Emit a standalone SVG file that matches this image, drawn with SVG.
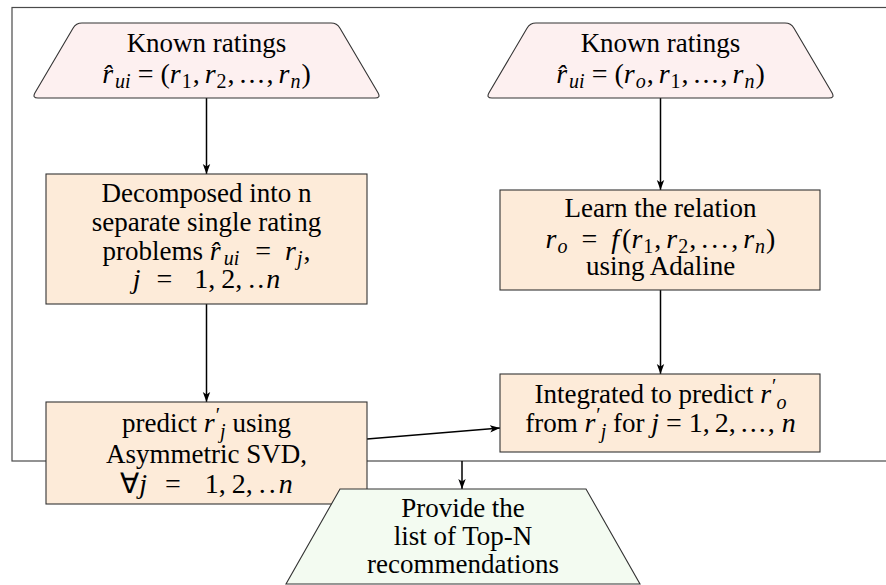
<svg xmlns="http://www.w3.org/2000/svg" width="886" height="585" viewBox="0 0 886 585">
<style>
.t{font-family:'Liberation Serif','Times New Roman',serif;font-size:27px;fill:#000;text-anchor:middle}
.m{font-size:28px}
.i{font-style:italic}
.s{font-size:20px}
.box{stroke:#333;stroke-width:1.1}
.pink{fill:#fdf0f0}
.orange{fill:#fdebd9}
.green{fill:#f3fbf1}
.frame{fill:none;stroke:#4a4a4a;stroke-width:1.2}
.conn{stroke:#000;stroke-width:1.5;fill:none;marker-end:url(#arr)}
</style>
<defs>
<marker id="arr" markerUnits="userSpaceOnUse" markerWidth="11" markerHeight="9" refX="10" refY="4.5" orient="auto">
<path d="M0,0.8 L10,4.5 L0,8.2 L2.4,4.5 Z" fill="#000"/>
</marker>
</defs>
<rect id="frame" class="frame" x="12" y="7.5" width="900" height="453.5"/>
<g id="connectors">
<line class="conn" x1="206.5" y1="98" x2="206.5" y2="174"/>
<line class="conn" x1="206.5" y1="304" x2="206.5" y2="402"/>
<line class="conn" x1="660.5" y1="98" x2="660.5" y2="190"/>
<line class="conn" x1="660.5" y1="290" x2="660.5" y2="374"/>
<line class="conn" x1="367" y1="439" x2="500" y2="428"/>
<line class="conn" x1="462" y1="461" x2="462" y2="489"/>
</g>
<g id="known1">
<path class="box pink" d="M82,23 H331 Q337,23 340,28.2 L378,92.8 Q381,98 375,98 H38 Q32,98 35,92.8 L73,28.2 Q76,23 82,23 Z"/>
<text class="t" x="206.5" y="52">Known ratings</text>
<text class="t" x="206.5" y="83"><tspan class="m i">r̂</tspan><tspan class="s i" dx="2" dy="5">ui</tspan><tspan class="m" dx="7" dy="-5">=</tspan><tspan class="m" dx="7">(</tspan><tspan class="m i">r</tspan><tspan class="s" dx="1" dy="5">1</tspan><tspan class="m" dx="1" dy="-5">,</tspan><tspan class="m i" dx="5">r</tspan><tspan class="s" dx="1" dy="5">2</tspan><tspan class="m" dx="1" dy="-5">,</tspan><tspan class="m" dx="5" letter-spacing="2">...</tspan><tspan class="m">,</tspan><tspan class="m i" dx="5">r</tspan><tspan class="s i" dx="1" dy="5">n</tspan><tspan class="m" dx="1" dy="-5">)</tspan></text>
</g>
<g id="known2">
<path class="box pink" d="M536,23 H785 Q791,23 794,28.2 L832,92.8 Q835,98 829,98 H492 Q486,98 489,92.8 L527,28.2 Q530,23 536,23 Z"/>
<text class="t" x="660.5" y="52">Known ratings</text>
<text class="t" x="660.5" y="83"><tspan class="m i">r̂</tspan><tspan class="s i" dx="2" dy="5">ui</tspan><tspan class="m" dx="7" dy="-5">=</tspan><tspan class="m" dx="7">(</tspan><tspan class="m i">r</tspan><tspan class="s i" dx="1" dy="5">o</tspan><tspan class="m" dx="1" dy="-5">,</tspan><tspan class="m i" dx="5">r</tspan><tspan class="s" dx="1" dy="5">1</tspan><tspan class="m" dx="1" dy="-5">,</tspan><tspan class="m" dx="5" letter-spacing="2">...</tspan><tspan class="m">,</tspan><tspan class="m i" dx="5">r</tspan><tspan class="s i" dx="1" dy="5">n</tspan><tspan class="m" dx="1" dy="-5">)</tspan></text>
</g>
<g id="decompose">
<rect class="box orange" x="46" y="174" width="321" height="130"/>
<text class="t" x="206.5" y="202">Decomposed into n</text>
<text class="t" x="206.5" y="231">separate single rating</text>
<text class="t" x="206.5" y="260">problems <tspan class="m i">r̂</tspan><tspan class="s i" dx="3" dy="5">ui</tspan><tspan class="m" dx="16" dy="-5">=</tspan><tspan class="m i" dx="14">r</tspan><tspan class="s i" dx="1" dy="5">j</tspan><tspan class="m" dx="1" dy="-5">,</tspan></text>
<text class="t" x="206.5" y="288"><tspan class="m i">j</tspan><tspan class="m" dx="16">=</tspan><tspan class="m" dx="22">1,</tspan><tspan class="m" dx="6">2,</tspan><tspan class="m" dx="6" letter-spacing="2">..</tspan><tspan class="m i">n</tspan></text>
</g>
<g id="learn">
<rect class="box orange" x="500" y="190" width="320" height="100"/>
<text class="t" x="660.5" y="217">Learn the relation</text>
<text class="t" x="660.5" y="248"><tspan class="m i">r</tspan><tspan class="s i" dx="1" dy="5">o</tspan><tspan class="m" dx="14" dy="-5">=</tspan><tspan class="m i" dx="14">f</tspan><tspan class="m" dx="3">(</tspan><tspan class="m i">r</tspan><tspan class="s" dx="1" dy="5">1</tspan><tspan class="m" dx="1" dy="-5">,</tspan><tspan class="m i" dx="5">r</tspan><tspan class="s" dx="1" dy="5">2</tspan><tspan class="m" dx="1" dy="-5">,</tspan><tspan class="m" dx="5" letter-spacing="3">...</tspan><tspan class="m">,</tspan><tspan class="m i" dx="5">r</tspan><tspan class="s i" dx="1" dy="5">n</tspan><tspan class="m" dx="1" dy="-5">)</tspan></text>
<text class="t" x="660.5" y="275">using Adaline</text>
</g>
<g id="predict">
<rect class="box orange" x="46" y="402" width="321" height="102"/>
<text class="t" x="206.5" y="432">predict <tspan class="m i">r</tspan><tspan class="s" dx="1" dy="-10">′</tspan><tspan class="s i" dy="16">j</tspan><tspan dy="-6"> using</tspan></text>
<text class="t" x="206.5" y="463">Asymmetric SVD,</text>
<text class="t" x="206.5" y="493"><tspan class="m">∀</tspan><tspan class="m i">j</tspan><tspan class="m" dx="18">=</tspan><tspan class="m" dx="24">1,</tspan><tspan class="m" dx="6">2,</tspan><tspan class="m" dx="6" letter-spacing="3">..</tspan><tspan class="m i">n</tspan></text>
</g>
<g id="integrate">
<rect class="box orange" x="500" y="374" width="320" height="78"/>
<text class="t" x="660.5" y="403">Integrated to predict <tspan class="m i">r</tspan><tspan class="s" dx="1" dy="-10">′</tspan><tspan class="s i" dy="16">o</tspan></text>
<text class="t" x="660.5" y="432">from <tspan class="m i">r</tspan><tspan class="s" dx="1" dy="-10">′</tspan><tspan class="s i" dy="16">j</tspan><tspan dy="-6"> for </tspan><tspan class="m i">j</tspan><tspan class="m" dx="7">=</tspan><tspan class="m" dx="7">1,</tspan><tspan class="m" dx="5">2,</tspan><tspan class="m" dx="5" letter-spacing="2">...,</tspan><tspan class="m i" dx="5">n</tspan></text>
</g>
<g id="topn">
<polygon class="box green" points="340,489 586,489 640,584 286,584"/>
<text class="t" x="463" y="517">Provide the</text>
<text class="t" x="463" y="545">list of Top-N</text>
<text class="t" x="463" y="573">recommendations</text>
</g>
</svg>
